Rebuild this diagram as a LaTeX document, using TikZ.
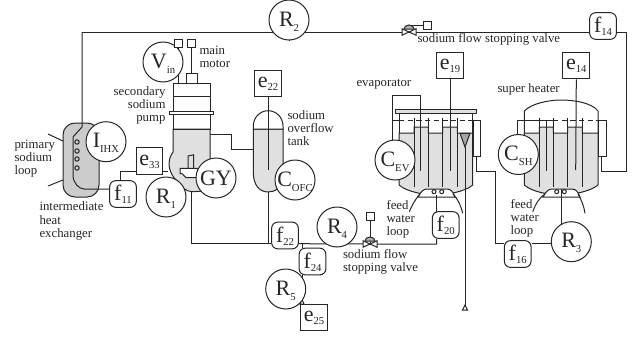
\documentclass[tikz,border=0pt]{standalone}
\usepackage{fontspec}
\usetikzlibrary{backgrounds}
\setmainfont{Liberation Serif}
\newcommand{\sig}[2]{\raisebox{1.4pt}{#1\smash{\raisebox{-.22em}{\fontsize{8}{9}\selectfont #2}}}}
\newcommand{\sigb}[2]{\raisebox{1.4pt}{#1\smash{\raisebox{-.13em}{\fontsize{8}{9}\selectfont #2}}}}
\definecolor{ink}{gray}{0.15}
\definecolor{hxgray}{gray}{0.8}
\definecolor{fluid}{gray}{0.88}
\tikzset{
  every path/.style={line width=0.75pt},
  circ/.style={circle,draw=ink,fill=white,minimum size=30pt,inner sep=0pt,font=\fontsize{16.5}{18}\selectfont,text=ink},
  flow/.style={rectangle,rounded corners=4.5pt,draw=ink,fill=white,minimum size=20pt,inner sep=0pt,font=\fontsize{16.5}{18}\selectfont,text=ink},
  sqr/.style={rectangle,draw=ink,fill=white,minimum size=20pt,inner sep=0pt,font=\fontsize{16.5}{18}\selectfont,text=ink},
  tiny box/.style={rectangle,draw=ink,fill=white,minimum size=6pt,inner sep=0pt},
  lab/.style={align=left,anchor=west,inner sep=0pt,text=ink,font=\fontsize{9.6}{9.8}\selectfont},
  labr/.style={align=right,anchor=east,inner sep=0pt,text=ink,font=\fontsize{9.6}{9.8}\selectfont},
  pipe/.style={draw=ink},
  vessel/.style={draw=ink,fill=fluid},
  dashline/.style={draw=ink,dash pattern=on 4pt off 2.5pt},
}
\begin{document}
\begin{tikzpicture}[x=0.75pt,y=-0.75pt]
\useasboundingbox (0,0) rectangle (634,339);
\coordinate (tl) at (82,32);
\coordinate (trr) at (626,32);
\coordinate (brr) at (626,171);
\coordinate (sbj) at (476,171.3);
\coordinate (sbk) at (495,171.3);
\coordinate (vt) at (409,32);
\coordinate (vb) at (370,244);

\begin{pgfonlayer}{background}
% IHX
\draw[pipe,fill=hxgray,rounded corners=9pt] (63,123) rectangle (99,197);
\draw[pipe] (48,134) -- (63,141);
\draw[pipe] (48,186) -- (63,180);
\foreach \y in {142,151,159,168} \draw[pipe] (77,\y) circle[radius=2.2];
% pump
\draw[vessel] (173,129) -- (210,129) -- (210,165) -- (205,191) -- (192,191.7) .. controls (186,191.7) and (180,186) .. (176,180) .. controls (170,174) and (168,165) .. (169.5,160) .. controls (170,156) and (172,154) .. (173,152) -- cycle;
\draw[pipe] (173,83) rectangle (210,129);
\draw[pipe] (173,96) -- (210,96);
\draw[pipe,fill=white] (169.5,111) rectangle (213.5,114.5);
\draw[pipe,fill=white] (186,73) rectangle (197,83);
\draw[pipe,fill=white] (180,168.3) -- (197,168.3) -- (199,172) -- (197,177.7) -- (186,177.7) -- (182,173.5) -- (180,173.5) -- cycle;
\draw[pipe,fill=fluid] (188,156) -- (193.5,154.8) -- (193.5,168.3) -- (188,168.3) -- cycle;
\draw[pipe] (197,177.7) -- (205,177.7);
% tank
\draw[vessel] (253.3,129) -- (283,129) -- (283,172) .. controls (283,188) and (275,192) .. (268.3,192) .. controls (260,192) and (253.3,186) .. (253.3,172) -- cycle;
\draw[pipe,fill=white] (253.3,129) -- (253.3,126) arc[start angle=180,end angle=360,x radius=14.85,y radius=15.3] -- (283,129) -- cycle;
% evaporator
\draw[vessel] (399,133) -- (414,133) -- (414,127) -- (428.3,127) -- (428.3,133) -- (442.7,133) -- (442.7,127) -- (457.3,127) -- (457.3,133) -- (472.7,133) -- (472.7,185) .. controls (465,192) and (445,195) .. (436,195) .. controls (425,195) and (407,192) .. (399,185) -- cycle;
\draw[pipe] (399,113) -- (399,133);
\draw[pipe] (472.7,113) -- (472.7,133);
\draw[pipe,fill=fluid] (395.7,109.3) rectangle (476,113.3);
\draw[pipe,fill=gray!70] (460,133.3) -- (470,133.3) -- (465,147) -- cycle;
\draw[dashline] (399,120) -- (473,120);
\draw[pipe] (392.5,120) -- (399,120);
\foreach \x in {414,428.3,442.7,457.3} \draw[pipe] (\x,118) -- (\x,187);
\draw[pipe,fill=white] (473.3,120) rectangle (480,156.7);
\draw[pipe,fill=white] (418,197) .. controls (421,191) and (424,189) .. (427,189) -- (447,189) .. controls (451,189) and (453,192) .. (455,197) -- cycle;
\foreach \x in {434,441.7} \draw[pipe] (\x,191.7) circle[radius=2];
% super heater
\draw[vessel] (524.3,133) -- (539.3,133) -- (539.3,127) -- (553.3,127) -- (553.3,133) -- (567.7,133) -- (567.7,127) -- (582.3,127) -- (582.3,133) -- (598,133) -- (598,185) .. controls (590,192) and (570,195) .. (561,195) .. controls (550,195) and (532,192) .. (524.3,185) -- cycle;
\draw[pipe] (524.3,133) -- (524.3,111) .. controls (532,103) and (550,100) .. (561,100) .. controls (575,100) and (592,103) .. (598,111) -- (598,133);
\draw[pipe] (517.3,136) -- (517.3,120) -- (553,120);
\draw[dashline] (553,120) -- (596,120);
\draw[pipe] (596,120) -- (606,120);
\foreach \x in {539.3,553.3,567.7,582.3} \draw[pipe] (\x,118) -- (\x,187);
\draw[pipe,fill=white] (598,120) rectangle (606,156);
\draw[pipe,fill=white] (543,197) .. controls (546,191) and (549,189) .. (552,189) -- (572,189) .. controls (576,189) and (578,192) .. (580,197) -- cycle;
\foreach \x in {556.7,564.3} \draw[pipe] (\x,191.7) circle[radius=2];
\end{pgfonlayer}

\node[circ] (R2) at (289,20) {\sig{R}{2}};
\node[circ] (Vin) at (163,62) {\sig{V}{in}};
\node[circ] (IHX) at (106,141.7) {\sig{I}{IHX}};
\node[circ] (R1) at (166,197) {\sig{R}{1}};
\node[circ] (GY) at (216,178) {GY};
\node[circ] (COFC) at (295,180) {\sig{C}{OFC}};
\node[circ] (R4) at (337,227) {\sig{R}{4}};
\node[circ] (R5) at (285.7,289) {\sig{R}{5}};
\node[circ] (R3) at (571.3,241.7) {\sig{R}{3}};
\node[circ] (CEV) at (395,160) {\sig{C}{EV}};
\node[circ] (CSH) at (518.3,154.5) {\sig{C}{SH}};
\node[flow] (f14) at (603,26) {\sigb{f}{14}};
\node[flow] (f11) at (123,194) {\sigb{f}{11}};
\node[flow] (f22) at (285,235.5) {\sigb{f}{22}};
\node[flow] (f24) at (312.5,261.5) {\sigb{f}{24}};
\node[flow] (f20) at (445.7,225) {\sigb{f}{20}};
\node[flow] (f16) at (517.7,254) {\sigb{f}{16}};
\node[sqr] (e33) at (149.5,161) {\sigb{e}{33}};
\node[sqr] (e22) at (268,83.5) {\sigb{e}{22}};
\node[sqr] (e19) at (450,65.5) {\sigb{e}{19}};
\node[sqr] (e14) at (576.3,65.5) {\sigb{e}{14}};
\node[sqr] (e25) at (314,317.5) {\sigb{e}{25}};
\node[tiny box] (m1) at (178.5,43.5) {};
\node[tiny box] (m2) at (191,43.5) {};
\node[tiny box] (vtb) at (427,25) {};
\node[tiny box] (vbb) at (370,216) {};

\begin{pgfonlayer}{background}
\draw[pipe] (R2) -- (tl -| R2);
\draw[pipe] (tl) -- (trr -| f14.west);
\draw[pipe] (f14.east |- trr) -- (trr) -- (brr) -- (601,171) -- (601,156);
\draw[pipe] (tl) -- (82,127) -- (73,137) -- (73,175) .. controls (73,183) and (79,189) .. (84,189) -- (f11.west |- 0,189);
\draw[pipe] (f11.north -| 120,0) -- (120,171) -- (e33.west |- 0,171);
\draw[pipe] (e33.east |- 0,171.5) -- (168,171.5);
\draw[pipe] (m2.south) -- (191,73);
\draw[pipe] (m1.south) -- (178.5,83);
\draw[pipe] (210,134.5) -- (231.5,134.5) -- (231.5,149) -- (253.3,149);
\draw[pipe] (e22.south) -- (268,170);
\draw[pipe] (268.3,192) -- (268.3,243.7) -- (191.7,243.7) -- (191.7,192);
\draw[pipe] (268.3,243.7) -- (f22.west |- 0,243.7);
\draw[pipe] (f22.east |- 0,243.7) -- (vb) -- (436.7,244) -- (f20.south -| 436.7,0);
\draw[pipe] (302,243.7) -- (f24.north -| 302,0);
\draw[pipe] (f24.south -| 302,0) -- (302,304);
\draw[pipe] (vb) -- (vbb.south);
\draw[pipe] (409,25) -- (vtb.west);
\draw[pipe] (e19.south) -- (450,171);
\draw[pipe] (e14.south) -- (575.7,170);
\draw[pipe] (392.5,140) -- (392.5,95) -- (420.7,95) -- (420.7,171);
\draw[pipe] (546,120) -- (546,171);
\draw[pipe] (476,156.7) -- (sbj) -- (sbk) -- (495,243.7) -- (f16.west |- 0,243.7);
\draw[pipe] (f16.east |- 0,243.7) -- (R3.west |- 0,243.7);
\draw[pipe] (561,189) -- (561,224.5);
\draw[pipe] (436.7,195) -- (436.7,211.7);
\draw[pipe] (465,147) -- (465,306);
\draw[pipe,fill=white] (465,305) -- (467.5,310) -- (462.5,310) -- cycle;
\draw[pipe,fill=white] (302,299.5) -- (304,304) -- (300,304) -- cycle;
\draw[pipe] (409.3,211.7) .. controls (413,203) and (417,197) .. (420,194);
\draw[pipe] (453,194) .. controls (458,199) and (461,206) .. (462.7,213.3);
\draw[pipe] (532.7,211.7) .. controls (536,203) and (540,197) .. (545,194);
\draw[pipe] (578,194) .. controls (581,199) and (584,206) .. (585,213.3);
\end{pgfonlayer}

% valves
\foreach \c in {vt,vb}{
  \draw[pipe,fill=gray!60] ([shift={(-5,-3)}]\c) arc[start angle=180,end angle=360,x radius=5,y radius=4] -- cycle;
  \draw[pipe,fill=white] ([shift={(-7,-3.2)}]\c) -- ([shift={(7,3.2)}]\c) -- ([shift={(7,-3.2)}]\c) -- ([shift={(-7,3.2)}]\c) -- cycle;
}

% labels
\node[lab] (tmain) at (199,57) {main\\motor};
\node[labr] (tpump) at (166,105.5) {secondary\\sodium\\pump};
\node[lab] (ttank) at (287,128) {sodium\\overflow\\tank};
\node[lab] (tprim) at (14,159) {primary\\sodium\\loop};
\node[lab] (tihx) at (39,221) {intermediate\\heat\\exchanger};
\node[lab] (tv1) at (417,39) {sodium flow stopping valve};
\node[lab] (tev) at (356,84) {evaporator};
\node[lab] (tsh) at (497,89) {super heater};
\node[lab] (tfw1) at (386,219) {feed\\water\\loop};
\node[lab] (tfw2) at (510,218.5) {feed\\water\\loop};
\node[lab] (tv2) at (342.5,261.5) {sodium flow\\stopping valve};
\end{tikzpicture}
\end{document}
